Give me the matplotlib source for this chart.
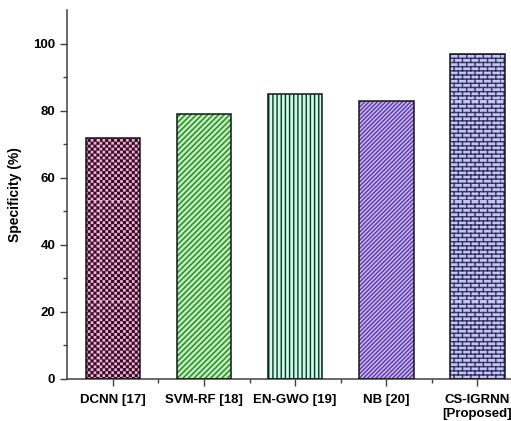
import numpy as np
import matplotlib
matplotlib.use("Agg")
import matplotlib.pyplot as plt
import matplotlib.hatch as mhatch
from matplotlib.path import Path

# data
methods = ["DCNN [17]", "SVM-RF [18]", "EN-GWO [19]", "NB [20]", "CS-IGRNN\n[Proposed]"]
specificity = [72, 79, 85, 83, 97]

fills = ["#eab4d6", "#b8f2b0", "#c2ffe6", "#ccb6f4", "#c4c4f6"]
hatch_cols = ["#3a0a24", "#2f7a35", "#1a2e26", "#5a3ca6", "#34345e"]
hatches = ["..", "//////", "||||", "////////", "*"]


class CheckerHatch(mhatch.HatchPatternBase):
    """staggered small filled squares, triggered by '.'"""
    def __init__(self, hatch, density):
        self.n = 34 if '.' in hatch else 0
        self.num_vertices = self.n * self.n // 2 * 5 if self.n else 0

    def set_vertices_and_codes(self, vertices, codes):
        n = self.n
        c = 1.0 / n
        s = c * 0.6
        k = 0
        for i in range(n):
            for j in range(n // 2):
                x0 = (2 * j + (i % 2)) * c
                y0 = i * c
                sq = [(x0, y0), (x0 + s, y0), (x0 + s, y0 + s), (x0, y0 + s), (x0, y0)]
                vertices[k:k + 5] = sq
                codes[k:k + 5] = [Path.MOVETO, Path.LINETO, Path.LINETO,
                                  Path.LINETO, Path.CLOSEPOLY]
                k += 5


class BrickHatch(mhatch.HatchPatternBase):
    """brick wall pattern, triggered by '*'"""
    def __init__(self, hatch, density):
        self.rows = 24 if '*' in hatch else 0
        self.cols = self.rows // 2
        self.num_vertices = (self.rows * 2 + self.rows * self.cols * 2) if self.rows else 0

    def set_vertices_and_codes(self, vertices, codes):
        n, m = self.rows, self.cols
        h, w = 1.0 / n, 1.0 / m
        k = 0
        for i in range(n):
            vertices[k:k + 2] = [(0, i * h), (1, i * h)]
            codes[k:k + 2] = [Path.MOVETO, Path.LINETO]
            k += 2
        for i in range(n):
            off = 0.5 * w * (i % 2)
            for j in range(m):
                x = j * w + off
                vertices[k:k + 2] = [(x, i * h), (x, (i + 1) * h)]
                codes[k:k + 2] = [Path.MOVETO, Path.LINETO]
                k += 2


# swap the stock dot/star hatches for the custom ones
mhatch._hatch_types = [t for t in mhatch._hatch_types
                       if t not in (mhatch.SmallFilledCircles, mhatch.Stars)]
mhatch._hatch_types += [CheckerHatch, BrickHatch]

plt.rcParams['font.family'] = ['Liberation Sans', 'DejaVu Sans']
plt.rcParams['font.weight'] = 'bold'
plt.rcParams['hatch.linewidth'] = 1.0

fig = plt.figure(figsize=(5.11, 4.21), dpi=100)
ax = fig.add_axes([0.131, 0.0998, 0.869, 0.876])

x = np.arange(len(methods))
for i in range(len(methods)):
    ax.bar(x[i], specificity[i], width=0.6, color=fills[i], hatch=hatches[i],
           edgecolor=hatch_cols[i], linewidth=0, zorder=2)
    ax.bar(x[i], specificity[i], width=0.6, fill=False, edgecolor="#151515",
           linewidth=1.1, zorder=3)

ax.set_xlim(-0.505, 4.37)
ax.set_ylim(0, 110)
ax.set_yticks([0, 20, 40, 60, 80, 100])
ax.set_yticks([10, 30, 50, 70, 90], minor=True)
ax.set_xticks(x)
ax.set_xticks(x[:-1] + 0.5, minor=True)
ax.set_xticklabels(methods, fontsize=9.5, fontweight='bold')
ax.tick_params(axis='y', labelsize=9.5)
ax.tick_params(axis='x', pad=6)
ax.tick_params(which='major', direction='out', length=5, width=1, color="#404040")
ax.tick_params(which='minor', direction='out', length=3, width=1, color="#404040")

for side in ['top', 'right']:
    ax.spines[side].set_visible(False)
for side in ['left', 'bottom']:
    ax.spines[side].set_color("#404040")
    ax.spines[side].set_linewidth(1.1)

ax.set_ylabel("Specificity (%)", fontsize=10, fontweight='bold', labelpad=8)

fig.savefig("out.png", dpi=100)
